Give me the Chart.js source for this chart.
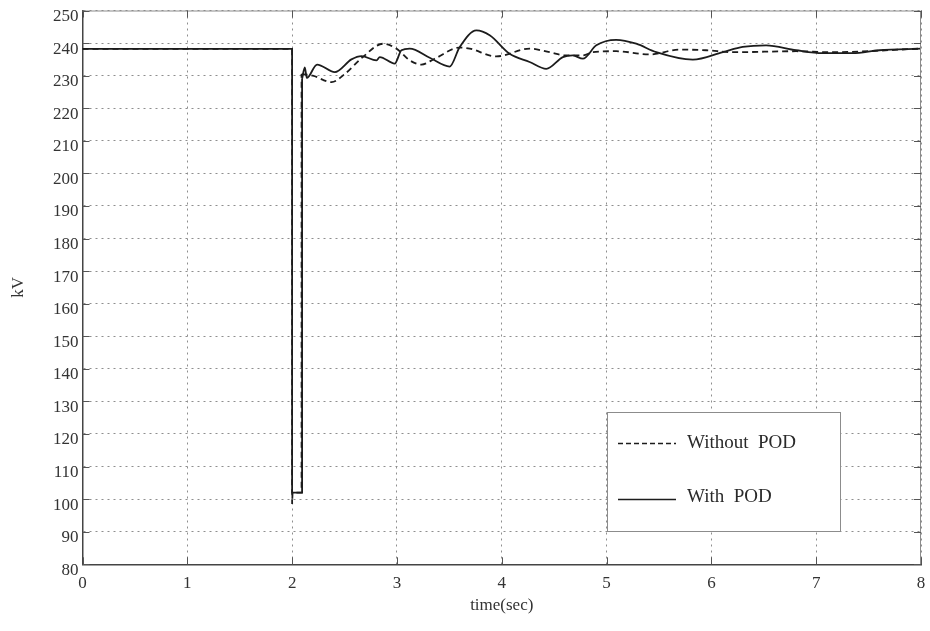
<!DOCTYPE html>
<html>
<head>
<meta charset="utf-8">
<script src="https://cdn.jsdelivr.net/npm/chart.js@4.4.1/dist/chart.umd.min.js"></script>
<style>
  html, body { margin: 0; padding: 0; background: #ffffff; }
  #wrap { width: 930px; height: 631px; position: relative; }
</style>
</head>
<body>
<div id="wrap"><canvas id="c"></canvas></div>
<script>
// Bus voltage (kV) after a fault at t = 2 s, with and without the POD controller
const seriesNames = ['Without  POD', 'With  POD'];

const timeWithout = [0, 2.0, 2.0, 2.004, 2.09, 2.09, 2.197, 2.376, 2.502, 2.674, 2.868, 2.995,
  3.122, 3.234, 3.360, 3.599, 3.694, 3.948, 4.266, 4.457, 4.616, 4.774, 4.869, 5.092,
  5.410, 5.696, 5.950, 6.204, 6.808, 7.126, 8.0];
const kvWithout = [238.2, 238.2, 98.5, 102, 102, 230.5, 230.0, 228.0, 230.5, 235.7, 239.8, 238.3,
  234.7, 233.4, 235.2, 238.6, 238.3, 235.9, 238.3, 237.2, 236.2, 236.2, 237.2, 237.5,
  236.5, 238.0, 237.8, 237.2, 237.5, 237.2, 238.3];
const recoveryWithout = 5;

const timeWith = [0, 2.0, 2.0, 2.095, 2.095, 2.121, 2.140, 2.238, 2.407, 2.566, 2.662, 2.805,
  2.836, 2.979, 3.043, 3.122, 3.313, 3.503, 3.599, 3.758, 3.885, 4.075, 4.266, 4.425,
  4.583, 4.679, 4.774, 4.902, 5.092, 5.283, 5.474, 5.823, 6.109, 6.299, 6.522, 6.808,
  7.062, 7.348, 7.602, 8.0];
const kvWith = [238.2, 238.2, 102, 102, 229.0, 232.5, 229.3, 233.4, 231.1, 235.0, 236.0, 234.7,
  235.7, 233.7, 237.8, 238.3, 235.5, 232.8, 238.8, 243.9, 242.4, 236.7, 234.2, 232.1,
  235.7, 236.2, 235.2, 239.3, 241.0, 239.8, 237.2, 234.9, 237.2, 238.8, 239.3, 237.8,
  236.9, 236.9, 237.8, 238.3];
const recoveryWith = 4;

const xTickValues = [0, 1, 2, 3, 4, 5, 6, 7, 8];
const yMin = 80, yMax = 250, yStep = 10;

const LINE = '#1c1c1c';
const SERIF = '"Liberation Serif", "DejaVu Serif", serif';

function pts(t, v, from, to) {
  const out = [];
  for (let i = from; i <= to; i++) out.push({ x: t[i], y: v[i] });
  return out;
}

// each series: a straight-edged fault part and a smooth post-fault swing
const datasets = [
  { label: seriesNames[1], data: pts(timeWith, kvWith, 0, recoveryWith),
    borderColor: LINE, borderWidth: 1.8, tension: 0, pointRadius: 0 },
  { label: seriesNames[1], data: pts(timeWith, kvWith, recoveryWith, timeWith.length - 1),
    borderColor: LINE, borderWidth: 1.8, cubicInterpolationMode: 'monotone', pointRadius: 0 },
  { label: seriesNames[0], data: pts(timeWithout, kvWithout, 0, recoveryWithout),
    borderColor: LINE, borderWidth: 1.8, borderDash: [6, 4], tension: 0, pointRadius: 0 },
  { label: seriesNames[0], data: pts(timeWithout, kvWithout, recoveryWithout, timeWithout.length - 1),
    borderColor: LINE, borderWidth: 1.8, borderDash: [6, 4], cubicInterpolationMode: 'monotone', pointRadius: 0 }
];

// box frame, inward tick marks and the boxed legend inside the plot
const framePlugin = {
  id: 'frame',
  afterDatasetsDraw(chart) {
    const { ctx, chartArea: a, scales: { x, y } } = chart;
    ctx.save();
    ctx.setLineDash([]);
    ctx.strokeStyle = '#8c8c8c';
    ctx.lineWidth = 1;
    ctx.beginPath();
    ctx.moveTo(a.left, a.top + 0.5);
    ctx.lineTo(a.right - 0.5, a.top + 0.5);
    ctx.lineTo(a.right - 0.5, a.bottom);
    ctx.stroke();

    ctx.strokeStyle = '#555';
    ctx.beginPath();
    y.ticks.forEach(t => {
      const py = Math.round(y.getPixelForValue(t.value)) + 0.5;
      ctx.moveTo(a.left, py); ctx.lineTo(a.left + 7, py);
      ctx.moveTo(a.right - 7, py); ctx.lineTo(a.right, py);
    });
    x.ticks.forEach(t => {
      const px = Math.round(x.getPixelForValue(t.value)) + 0.5;
      ctx.moveTo(px, a.bottom); ctx.lineTo(px, a.bottom - 7);
      ctx.moveTo(px, a.top); ctx.lineTo(px, a.top + 7);
    });
    ctx.stroke();

    // legend box
    const bx = 607.5, by = 412.5, bw = 233, bh = 119;
    ctx.fillStyle = '#ffffff';
    ctx.fillRect(bx, by, bw, bh);
    ctx.strokeStyle = '#8c8c8c';
    ctx.strokeRect(bx, by, bw, bh);

    const rows = [{ y: 443.5, dash: [5, 3], text: seriesNames[0], ty: 443 },
                  { y: 499.5, dash: [], text: seriesNames[1], ty: 497 }];
    ctx.font = '19px ' + SERIF;
    ctx.textBaseline = 'middle';
    ctx.textAlign = 'left';
    rows.forEach(r => {
      ctx.strokeStyle = LINE;
      ctx.lineWidth = 1.6;
      ctx.setLineDash(r.dash);
      ctx.beginPath();
      ctx.moveTo(618, r.y); ctx.lineTo(676, r.y);
      ctx.stroke();
      ctx.fillStyle = '#2a2a2a';
      ctx.fillText(r.text, 687, r.ty);
    });
    ctx.restore();
  }
};

new Chart(document.getElementById('c'), {
  type: 'line',
  data: { datasets },
  plugins: [framePlugin],
  options: {
    responsive: true,
    maintainAspectRatio: false,
    animation: false,
    layout: { padding: { top: 10.5, right: 9, left: 0, bottom: 0 } },
    plugins: { legend: { display: false }, tooltip: { enabled: false } },
    scales: {
      x: {
        type: 'linear', min: 0, max: 8,
        afterBuildTicks(scale) { scale.ticks = xTickValues.map(v => ({ value: v })); },
        afterFit(scale) { scale.height = 66.7; scale.paddingLeft = 0; scale.paddingRight = 0; },
        ticks: { color: '#333', font: { family: SERIF, size: 17 }, padding: 9, maxRotation: 0 },
        grid: { color: '#8e8e8e', lineWidth: 1, drawTicks: false },
        border: { display: true, color: '#444', width: 1.5, dash: [2, 4] },
        title: { display: true, text: 'time(sec)', color: '#333',
                 font: { family: SERIF, size: 17 }, padding: { top: 0, bottom: 15 } }
      },
      y: {
        type: 'linear', min: yMin, max: yMax,
        ticks: { stepSize: yStep, color: '#333', font: { family: SERIF, size: 17 }, padding: 4, labelOffset: 6 },
        afterFit(scale) { scale.width = 82.5; scale.paddingTop = 0; scale.paddingBottom = 0; },
        grid: { color: '#8e8e8e', lineWidth: 1, drawTicks: false },
        border: { display: true, color: '#444', width: 1.5, dash: [2, 4] },
        title: { display: true, text: 'kV', color: '#333',
                 font: { family: SERIF, size: 17 }, padding: { top: 8, bottom: 0 } }
      }
    }
  }
});
</script>
</body>
</html>
